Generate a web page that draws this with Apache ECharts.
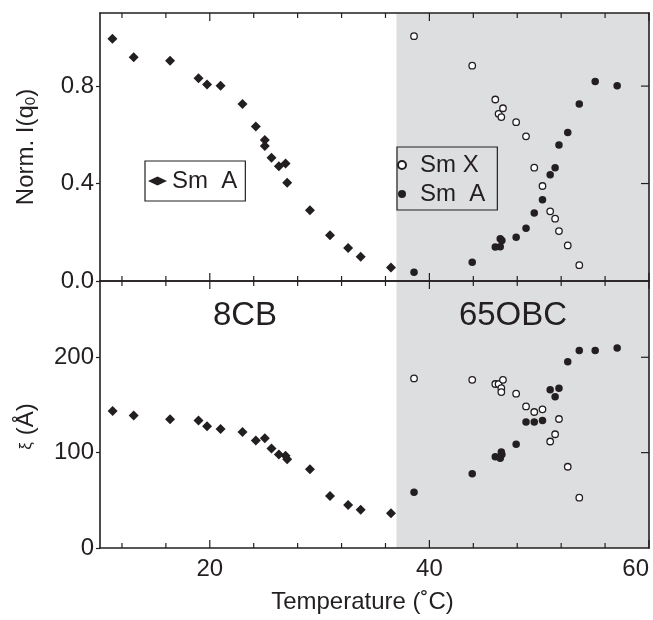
<!DOCTYPE html>
<html><head><meta charset="utf-8">
<script src="https://cdn.jsdelivr.net/npm/echarts@6/dist/echarts.min.js"></script>
<style>html,body{margin:0;padding:0;background:#fff}#c{width:653px;height:620px}</style>
</head><body><div id="c"></div>
<script>
// ---------- data ----------
const xMinorTicks = [12,16,24,28,32,36,44,48,52,56];
const xMajorTicks = [20,40,60];
const topTicks = [0,0.4,0.8];
const topRightTicks = [0.4,0.8];
const botTicks = [0,100,200];
const botRightTicks = [100,200];
const phaseRegion = [37,60];

// 8CB Sm A, top panel (normalized intensity)
const tempTop8CB = [11.13,13.07,16.38,18.97,19.75,20.98,22.98,24.19,25.01,25.01,25.62,26.29,26.9,27.05,29.12,30.95,32.6,33.74,36.5];
const normTop8CB = [0.994,0.918,0.904,0.832,0.807,0.801,0.726,0.634,0.579,0.554,0.506,0.471,0.482,0.403,0.290,0.188,0.135,0.100,0.055];
// 65OBC Sm X, top panel
const tempTopSmX = [38.6,43.9,46.0,46.7,46.3,46.55,47.9,48.8,49.55,50.3,51.0,51.45,51.8,52.6,53.65];
const normTopSmX = [1.005,0.884,0.745,0.709,0.686,0.673,0.652,0.594,0.465,0.390,0.286,0.256,0.205,0.146,0.065];
// 65OBC Sm A, top panel
const tempTopSmA = [38.6,43.9,46.0,46.45,46.6,46.45,47.9,48.8,49.55,50.3,51.0,51.45,51.8,52.6,53.65,55.1,57.1];
const normTopSmA = [0.036,0.077,0.140,0.141,0.166,0.173,0.180,0.216,0.279,0.333,0.436,0.465,0.558,0.610,0.726,0.819,0.801];

// 8CB Sm A, bottom panel (correlation length)
const tempBot8CB = [11.15,13.07,16.38,18.97,19.75,20.98,22.98,24.19,25.01,25.62,26.29,26.9,27.05,29.12,30.95,32.6,33.74,36.5];
const xiBot8CB = [143.6,139,135,133.6,127.7,124.8,121.7,112.7,115,104.4,98,96.7,93.2,82.5,54.6,45.2,40,36.5];
// 65OBC Sm X, bottom panel
const tempBotSmX = [38.6,43.9,46.0,46.3,46.7,46.55,46.55,47.9,48.8,49.55,50.3,51.8,51.45,51.0,52.6,53.65];
const xiBotSmX = [177.8,176.4,172,172,176.4,167.6,163.5,161.8,148.5,142.6,145.4,135.3,119.3,111.7,85.2,52.8];
// 65OBC Sm A, bottom panel
const tempBotSmA = [38.6,43.9,46.0,46.45,46.55,46.6,47.9,48.8,49.55,50.3,51.0,51.8,51.45,52.6,53.65,55.1,57.1];
const xiBotSmA = [58.5,77.9,95.6,94,100.8,98,108.9,132.2,132.2,133.6,166,167.6,158.7,195.2,207,207,209.8];

// ---------- chart ----------
const zip = (a,b) => a.map((v,i) => [v,b[i]]);
const FONT = 'Liberation Sans, Arial, Helvetica, sans-serif';
const INK = '#231f20';
const X_MIN = 10, X_MAX = 60;
const TOP_MAX = 1.1, BOT_MAX = 280;

function xFrame(grid, pos, extra) {
  return Object.assign({
    type:'value', gridIndex:grid, position:pos, min:X_MIN, max:X_MAX, z:10,
    axisLine:{show:true, onZero:false, lineStyle:{color:INK, width:1.6}},
    axisTick:{show:false}, axisLabel:{show:false}, splitLine:{show:false}
  }, extra || {});
}
function yFrame(grid, pos, min, max, extra) {
  return Object.assign({
    type:'value', gridIndex:grid, position:pos, min:min, max:max, z:10,
    axisLine:{show:true, onZero:false, lineStyle:{color:INK, width:1.6}},
    axisTick:{show:false}, axisLabel:{show:false}, splitLine:{show:false}
  }, extra || {});
}
function labelStyle(vals, extra) {
  return Object.assign({show:true, fontSize:24, fontFamily:FONT, color:INK, customValues:vals.slice()}, extra || {});
}

const xAxes = [
  xFrame(0,'bottom'),
  xFrame(0,'top'),
  xFrame(1,'bottom',{
    axisLabel:labelStyle(xMajorTicks, {margin:9, alignMaxLabel:'right'}),
    name:'Temperature (\u02DAC)', nameLocation:'middle', nameGap:42,
    nameTextStyle:{fontSize:24, fontFamily:FONT, color:INK, padding:[0,24,0,0]}
  }),
  xFrame(1,'top')
];

const yAxes = [
  yFrame(0,'left',0,TOP_MAX,{
    axisTick:{show:true, inside:false, length:4, customValues:topTicks.slice(), lineStyle:{color:INK, width:1.2}},
    axisLabel:labelStyle(topTicks, {margin:6, formatter:v => v.toFixed(1)}),
    name:'Norm. I(q{s|0})', nameLocation:'middle', nameRotate:90, nameGap:62,
    nameTextStyle:{fontSize:24, fontFamily:FONT, color:INK,
      rich:{s:{fontSize:15, fontFamily:FONT, color:INK, verticalAlign:'bottom', padding:[8,0,0,0]}}}
  }),
  yFrame(0,'right',0,TOP_MAX),
  yFrame(1,'left',0,BOT_MAX,{
    axisTick:{show:true, inside:false, length:4, customValues:botTicks.slice(), lineStyle:{color:INK, width:1.2}},
    axisLabel:labelStyle(botTicks, {margin:6}),
    name:'{xi|\u03BE} (\u00C5)', nameLocation:'middle', nameRotate:90, nameGap:62,
    nameTextStyle:{fontSize:24, fontFamily:FONT, color:INK, padding:[0,24,0,0],
      rich:{xi:{fontSize:17, fontFamily:FONT, color:INK}}}
  }),
  yFrame(1,'right',0,BOT_MAX)
];

const diamond = {symbol:'diamond', symbolSize:10, itemStyle:{color:INK, opacity:1}};
const dot = {symbol:'circle', symbolSize:7.5, itemStyle:{color:INK, opacity:1}};
const ring = {symbol:'circle', symbolSize:6.5, itemStyle:{color:'#ffffff', borderColor:INK, borderWidth:1.3, opacity:1}};

function sc(name, grid, data, style) {
  return Object.assign({type:'scatter', name:name, xAxisIndex:grid===0?0:2, yAxisIndex:grid===0?0:2,
    data:data, z:3}, JSON.parse(JSON.stringify(style)));
}
function shade(grid) {
  return {type:'scatter', name:'shade'+grid, xAxisIndex:grid===0?0:2, yAxisIndex:grid===0?0:2,
    data:[], z:-1, silent:true,
    markArea:{silent:true, itemStyle:{color:'#dddee0', opacity:1}, data:[[{xAxis:phaseRegion[0]},{xAxis:phaseRegion[1]}]]}};
}

// inward tick marks of the frame, placed through the axes' own scales
// item = [x, y, kind]: kind 0 minor x tick, 1 major x tick, 2 right-side y tick
function tickSeries(grid, yMax, rightVals) {
  const items = [];
  xMinorTicks.forEach(v => items.push([v, 0, 0]));
  xMajorTicks.forEach(v => items.push([v, 0, 1]));
  rightVals.forEach(v => items.push([X_MAX, v, 2]));
  return {
    type:'custom', name:'ticks'+grid, xAxisIndex:grid===0?0:2, yAxisIndex:grid===0?0:2,
    data:items, z:20, silent:true, clip:false, encode:{x:0, y:1},
    renderItem:(params, api) => {
      const kind = api.value(2);
      const st = {stroke:INK, lineWidth:1.2};
      if (kind === 2) {
        const p = api.coord([api.value(0), api.value(1)]);
        return {type:'line', shape:{x1:p[0]-8, y1:p[1], x2:p[0], y2:p[1]}, style:st};
      }
      const len = kind === 1 ? 8 : 5;
      const pb = api.coord([api.value(0), 0]);
      const pt = api.coord([api.value(0), yMax]);
      return {type:'group', children:[
        {type:'line', shape:{x1:pb[0], y1:pb[1], x2:pb[0], y2:pb[1]-len}, style:st},
        {type:'line', shape:{x1:pt[0], y1:pt[1], x2:pt[0], y2:pt[1]+len}, style:st}
      ]};
    }
  };
}

const legendText = {fontSize:24, fontFamily:FONT, color:INK, lineHeight:24};
const option = {
  animation:false,
  grid:[
    {left:100, right:4, top:13, height:268},
    {left:100, right:4, top:281, height:267}
  ],
  xAxis:xAxes,
  yAxis:yAxes,
  legend:[
    {data:['8CB Sm A'], left:145, top:161, orient:'vertical', selectedMode:false, z:12,
     padding:[8,8,8,3], borderColor:INK, borderWidth:1.2, itemWidth:19, itemHeight:9,
     formatter:() => 'Sm  A', textStyle:legendText},
    {data:['65OBC Sm X','65OBC Sm A'], left:397, top:147, orient:'vertical', selectedMode:false, z:12,
     padding:[6,12,4,0], itemGap:5, borderColor:INK, borderWidth:1.2, itemWidth:26, itemHeight:8,
     formatter:n => n === '65OBC Sm X' ? 'Sm X' : 'Sm  A', textStyle:legendText}
  ],
  graphic:[
    {type:'text', x:245, y:316, z:10, style:{text:'8CB', font:'33px ' + FONT, fill:INK, align:'center', verticalAlign:'middle', textAlign:'center', textVerticalAlign:'middle'}},
    {type:'text', x:513, y:316, z:10, style:{text:'65OBC', font:'33px ' + FONT, fill:INK, align:'center', verticalAlign:'middle', textAlign:'center', textVerticalAlign:'middle'}}
  ],
  series:[
    shade(0), shade(1),
    sc('8CB Sm A', 0, zip(tempTop8CB, normTop8CB), diamond),
    sc('65OBC Sm X', 0, zip(tempTopSmX, normTopSmX), ring),
    sc('65OBC Sm A', 0, zip(tempTopSmA, normTopSmA), dot),
    sc('8CB Sm A', 1, zip(tempBot8CB, xiBot8CB), diamond),
    sc('65OBC Sm X', 1, zip(tempBotSmX, xiBotSmX), ring),
    sc('65OBC Sm A', 1, zip(tempBotSmA, xiBotSmA), dot),
    tickSeries(0, TOP_MAX, topRightTicks),
    tickSeries(1, BOT_MAX, botRightTicks)
  ]
};
const chart = echarts.init(document.getElementById('c'));
chart.setOption(option);
</script>
</body></html>
